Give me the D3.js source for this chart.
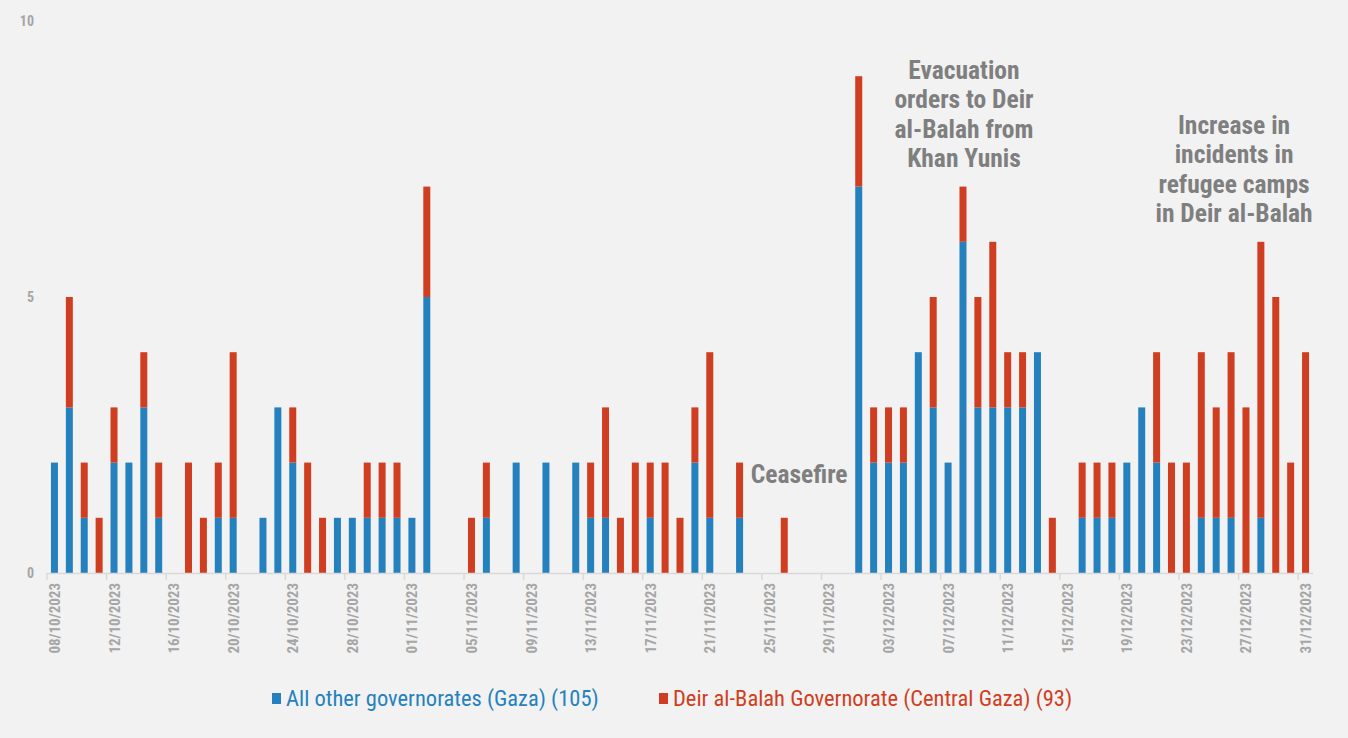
<!DOCTYPE html>
<html>
<head>
<meta charset="utf-8">
<script src="https://cdn.jsdelivr.net/npm/d3@7"></script>
<style>
  body { margin: 0; background: #f2f2f2; }
  text { font-family: "Liberation Sans Narrow", "Arial Narrow", "Roboto Condensed", "Liberation Sans", sans-serif; }
  .axis-label { fill: #a6a6a6; font-weight: bold; font-size: 14px; }
  .xlab { font-size: 15px; }
  .note { fill: #7f7f7f; font-weight: bold; font-size: 25.5px; }
  .legend { font-size: 22.5px; }
</style>
</head>
<body>
<div id="chart"></div>
<script>
// daily incidents, 08/10/2023 .. 31/12/2023
var startDate = new Date(2023, 9, 8);
var endDate = new Date(2023, 11, 31);
var dates = d3.timeDay.range(startDate, d3.timeDay.offset(endDate, 1));

// All other governorates (Gaza)
var otherGov = [2,3,1,0,2,2,3,1,0,0,0,1,1,0,1,3,2,0,0,1,1,1,1,1,1,5,
                0,0,0,1,0,2,0,2,0,2,1,1,0,0,1,0,0,2,1,0,1,0,0,0,0,0,0,0,
                7,2,2,2,4,3,2,6,3,3,3,3,4,0,0,1,1,1,2,3,2,0,0,1,1,1,0,1,0,0,0];
// Deir al-Balah Governorate (Central Gaza)
var deirBalah = [0,2,1,1,1,0,1,1,0,2,1,1,3,0,0,0,1,2,1,0,0,1,1,1,0,2,
                 0,0,1,1,0,0,0,0,0,0,1,2,1,2,1,2,1,1,3,0,1,0,0,1,0,0,0,0,
                 2,1,1,1,0,2,0,1,2,3,1,1,0,1,0,1,1,1,0,0,2,2,2,3,2,3,3,5,5,2,4];

var seriesNames = ["All other governorates (Gaza) (105)", "Deir al-Balah Governorate (Central Gaza) (93)"];
var seriesColors = ["#2581be", "#d03e21"];
var yTicks = [0, 5, 10];

var notes = [
  {date: new Date(2023, 10, 27), dx: 0, y: 1.63, lines: ["Ceasefire"]},
  {date: new Date(2023, 11, 8), dx: 1, y: 8.95, lines: ["Evacuation", "orders to Deir", "al-Balah from", "Khan Yunis"]},
  {date: new Date(2023, 11, 26), dx: 3, y: 7.95, lines: ["Increase in", "incidents in", "refugee camps", "in Deir al-Balah"]}
];

var width = 1348;
var height = 738;
var fmt = d3.timeFormat("%d/%m/%Y");

var rows = dates.map(function(d, i) {
  return {date: d, other: otherGov[i], deir: deirBalah[i]};
});

var svg = d3.select("#chart")
    .append("svg")
    .attr("width", width)
    .attr("height", height);

var x = d3.scaleBand()
    .domain(dates)
    .range([47, 1313])
    .padding(0);

var y = d3.scaleLinear()
    .domain([0, 10])
    .range([573, 21]);

var stack = d3.stack().keys(["other", "deir"]);
var layers = stack(rows);

var barW = 7;
svg.selectAll("g.layer")
    .data(layers)
    .enter().append("g")
    .attr("class", "layer")
    .attr("fill", function(d, i) { return seriesColors[i]; })
    .selectAll("rect")
    .data(function(d) { return d.filter(function(p) { return p[1] > p[0]; }); })
    .enter().append("rect")
    .attr("x", function(d) { return x(d.data.date) + x.bandwidth() / 2 - barW / 2; })
    .attr("width", barW)
    .attr("y", function(d) { return y(d[1]); })
    .attr("height", function(d) { return y(d[0]) - y(d[1]); });

// x axis line + tick marks between categories every 4 days
var tickDates = dates.filter(function(d, i) { return i % 4 === 0; });
svg.append("line")
    .attr("x1", 47).attr("x2", 1313)
    .attr("y1", 573.5).attr("y2", 573.5)
    .attr("stroke", "#d9d9d9").attr("stroke-width", 1.5);
svg.selectAll("line.tick")
    .data(tickDates)
    .enter().append("line")
    .attr("class", "tick")
    .attr("x1", function(d) { return x(d); })
    .attr("x2", function(d) { return x(d); })
    .attr("y1", 573).attr("y2", 580)
    .attr("stroke", "#d9d9d9").attr("stroke-width", 1.5);

svg.selectAll("text.xlab")
    .data(tickDates)
    .enter().append("text")
    .attr("class", "axis-label xlab")
    .attr("transform", function(d) {
      return "translate(" + (x(d) + x.bandwidth() / 2 + 5.5) + ",583) rotate(-90)";
    })
    .style("text-anchor", "end")
    .text(function(d) { return fmt(d); });

// y labels
svg.selectAll("text.ylab")
    .data(yTicks)
    .enter().append("text")
    .attr("class", "axis-label")
    .attr("x", 34)
    .attr("y", function(d) { return y(d) + 5; })
    .style("text-anchor", "end")
    .text(function(d) { return d; });

// annotations
notes.forEach(function(n) {
  var cx = x(n.date) + x.bandwidth() / 2 + n.dx;
  var t = svg.append("text")
      .attr("class", "note")
      .style("text-anchor", "middle")
      .attr("x", cx)
      .attr("y", y(n.y));
  n.lines.forEach(function(l, i) {
    t.append("tspan")
        .attr("x", cx)
        .attr("dy", i === 0 ? 0 : 29.3)
        .text(l);
  });
});

// legend
var legendX = [277, 664];
seriesNames.forEach(function(s, i) {
  svg.append("rect")
      .attr("x", legendX[i] - 5).attr("y", 693)
      .attr("width", 9).attr("height", 11)
      .attr("fill", seriesColors[i]);
  svg.append("text")
      .attr("class", "legend")
      .attr("x", legendX[i] + 9)
      .attr("y", 706)
      .attr("fill", seriesColors[i])
      .text(s);
});
</script>
</body>
</html>
